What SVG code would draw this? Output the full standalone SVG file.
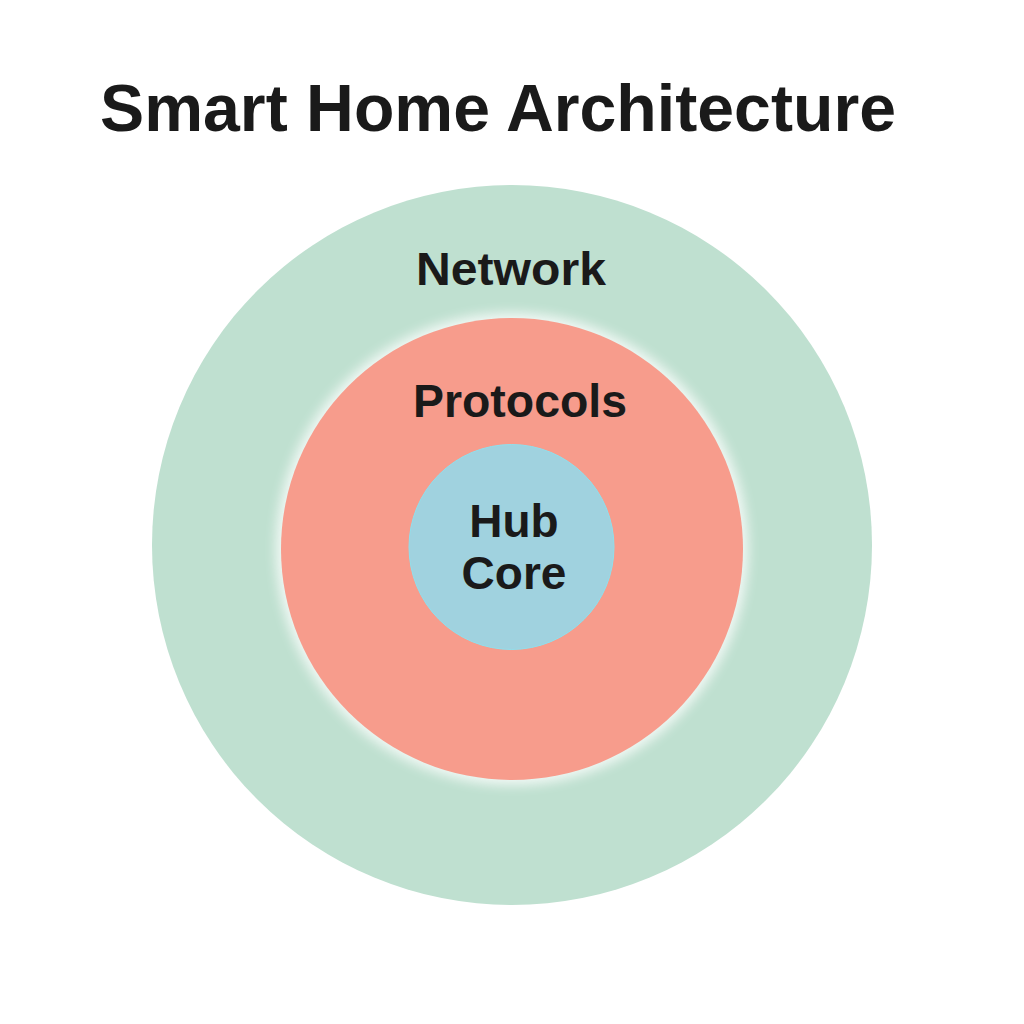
<svg xmlns="http://www.w3.org/2000/svg" width="1024" height="1024" viewBox="0 0 1024 1024">
<style>
.lbl{font-family:"Liberation Sans",Arial,sans-serif;font-weight:bold;fill:#1a1a1a;text-anchor:middle}
</style>
<defs>
<filter id="glow" x="-20%" y="-20%" width="140%" height="140%">
<feGaussianBlur stdDeviation="6"/>
</filter>
</defs>
<rect width="1024" height="1024" fill="#ffffff"/>
<text class="lbl" x="498" y="131" font-size="66" textLength="796" lengthAdjust="spacingAndGlyphs">Smart Home Architecture</text>
<g id="network">
<circle cx="512" cy="545" r="360" fill="#bfe0d0"/>
<text class="lbl" x="511" y="285" font-size="47" textLength="190" lengthAdjust="spacingAndGlyphs">Network</text>
</g>
<g id="protocols">
<circle cx="512" cy="549" r="236" fill="#ffffff" opacity="0.8" filter="url(#glow)"/>
<circle cx="512" cy="549" r="231" fill="#f79c8c"/>
<text class="lbl" x="520" y="417" font-size="46" textLength="214" lengthAdjust="spacingAndGlyphs">Protocols</text>
</g>
<g id="hub">
<circle cx="511.5" cy="547" r="102.5" fill="#a0d2df" stroke="#8fe0ee" stroke-width="1"/>
<text class="lbl" x="514" y="537" font-size="46">Hub</text>
<text class="lbl" x="514" y="589" font-size="46">Core</text>
</g>
<g id="connectors"></g>
</svg>
